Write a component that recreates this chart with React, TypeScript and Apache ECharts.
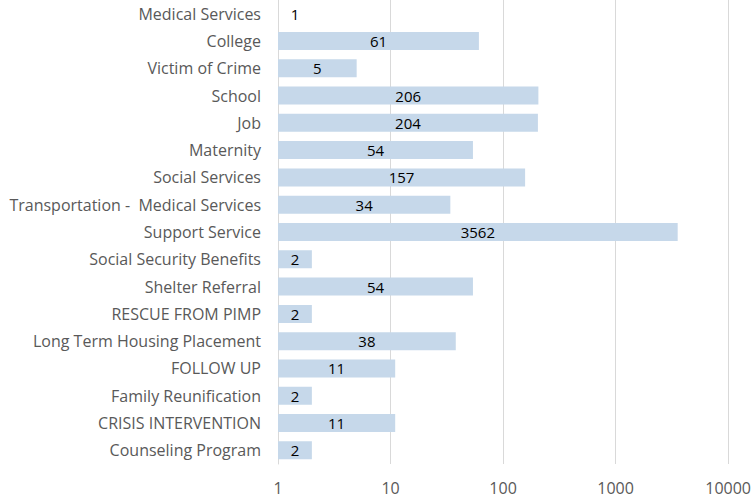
import React, { useEffect, useRef } from "react";
import * as echarts from "echarts";

const categories = [
  "Medical Services",
  "College",
  "Victim of Crime",
  "School",
  "Job",
  "Maternity",
  "Social Services",
  "Transportation -  Medical Services",
  "Support Service",
  "Social Security Benefits",
  "Shelter Referral",
  "RESCUE FROM PIMP",
  "Long Term Housing Placement",
  "FOLLOW UP",
  "Family Reunification",
  "CRISIS INTERVENTION",
  "Counseling Program",
];
const values = [1, 61, 5, 206, 204, 54, 157, 34, 3562, 2, 54, 2, 38, 11, 2, 11, 2];
const xTicks = [1, 10, 100, 1000, 10000];

const FONT = "'Open Sans', Lato, sans-serif";

export default function App() {
  const ref = useRef<HTMLDivElement>(null);
  useEffect(() => {
    if (!ref.current) return;
    const chart = echarts.init(ref.current, undefined, { renderer: "svg" });
    const cats = [...categories].reverse();
    const vals = [...values].reverse();
    chart.setOption({
      animation: false,
      grid: { left: 278, right: 25, top: 0, bottom: 38, containLabel: false },
      xAxis: {
        type: "log",
        logBase: 10,
        min: xTicks[0],
        max: xTicks[xTicks.length - 1],
        axisLine: { show: false },
        axisTick: { show: false },
        splitLine: { show: true, lineStyle: { color: "#d9d9d9", width: 1 } },
        axisLabel: {
          color: "#595959",
          fontFamily: FONT,
          fontSize: 16,
          margin: 16,
          formatter: (v: number) => String(Math.round(v)),
        },
      },
      yAxis: {
        type: "category",
        data: cats,
        axisLine: { show: true, lineStyle: { color: "#d9d9d9", width: 1 } },
        axisTick: { show: false },
        axisLabel: {
          color: "#595959",
          fontFamily: FONT,
          fontSize: 16,
          margin: 17,
        },
      },
      series: [
        {
          type: "bar",
          barWidth: "66%",
          itemStyle: { color: "#c6d8ea" },
          data: vals.map((v) =>
            v === 1 ? { value: v, label: { offset: [17, 0] } } : { value: v }
          ),
          label: {
            show: true,
            position: "inside",
            color: "#000000",
            fontFamily: FONT,
            fontSize: 15,
          },
        },
      ],
    });
    return () => chart.dispose();
  }, []);
  return (
    <div
      ref={ref}
      style={{ position: "absolute", left: 0, top: 0, width: 754, height: 502 }}
    />
  );
}
